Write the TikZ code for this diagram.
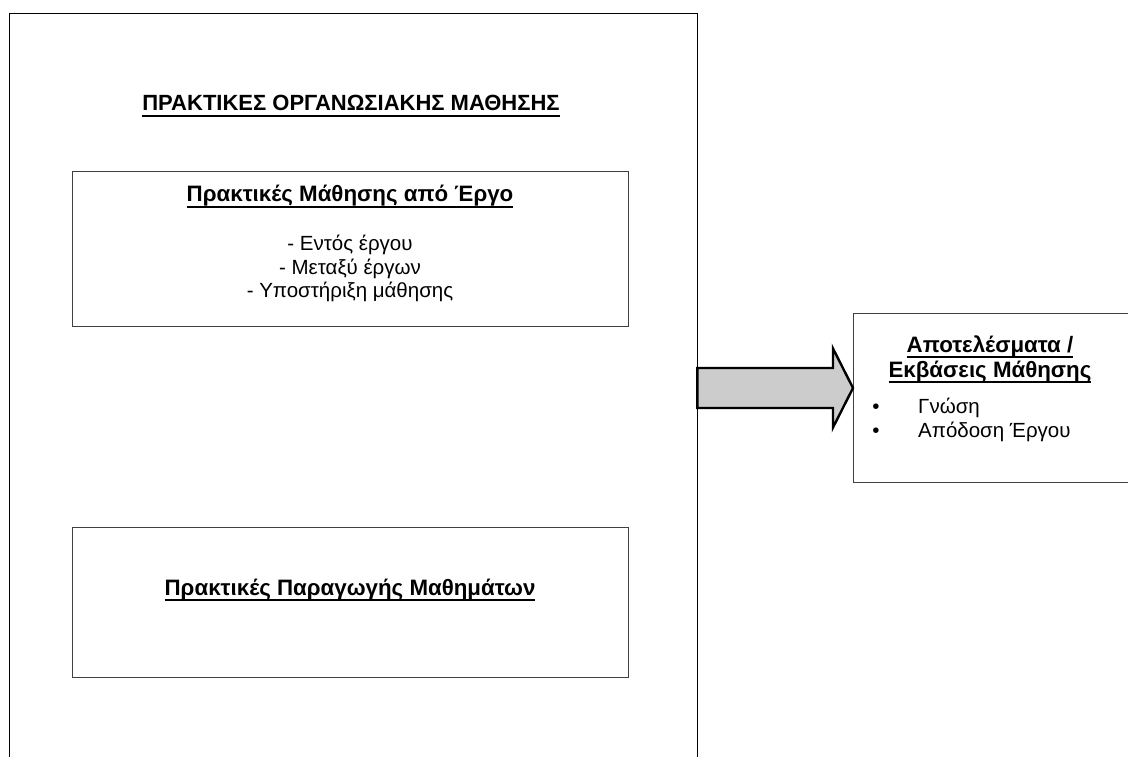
\documentclass[tikz,border=0pt]{standalone}
\usepackage{fontspec}
\setmainfont{Liberation Sans}
\usetikzlibrary{calc}

% bold heading with a heavy underline
\newcommand{\headul}[1]{\setbox0=\hbox{\bfseries #1}\leavevmode\rlap{\rule[-6pt]{\wd0}{2.4pt}}\box0}

\begin{document}
\begin{tikzpicture}[x=1pt,y=-1pt,
  txt/.style={font=\fontsize{20.5}{24}\selectfont, inner sep=0pt, anchor=base},
  hdr/.style={font=\fontsize{22.3}{26}\selectfont, inner sep=0pt, anchor=base},
  boxframe/.style={draw=black!75, line width=0.9pt, inner sep=0pt},
  bigarrow/.style={draw=black, fill=black!20, line width=2.4pt, line join=miter}]
\useasboundingbox (0,0) rectangle (1128,757);

% open frame around the organisational learning practices
\node[inner sep=0pt, minimum width=688, minimum height=746, anchor=north west] (frame) at (9,13) {};
\draw[black, line width=0.9pt] (frame.south west) |- (frame.north east) -- (frame.south east);

\node[hdr, font=\fontsize{22}{26}\selectfont] (title) at (351,111) {\headul{ΠΡΑΚΤΙΚΕΣ ΟΡΓΑΝΩΣΙΑΚΗΣ ΜΑΘΗΣΗΣ}};

% project learning practices
\node[boxframe, minimum width=556, minimum height=155] (proj) at (350,248.5) {};
\node[hdr] (projh) at (350,202) {\headul{Πρακτικές Μάθησης από Έργο}};
\node[txt] (p1) at (350,251) {- Εντός έργου};
\node[txt] (p2) at (350,274) {- Μεταξύ έργων};
\node[txt] (p3) at (350,297) {- Υποστήριξη μάθησης};

% lesson generation practices
\node[boxframe, minimum width=556, minimum height=150] (less) at (350,602) {};
\node[hdr] (lessh) at (350,595) {\headul{Πρακτικές Παραγωγής Μαθημάτων}};

% learning outcomes
\node[boxframe, minimum width=278, minimum height=169, anchor=north west] (res) at (853,313) {};
\node[hdr] (r1) at (990,352) {\headul{Αποτελέσματα /}};
\node[hdr] (r2) at (990,377) {\headul{Εκβάσεις Μάθησης}};
\node[txt] (b1) at (876,413) {\textbullet};
\node[txt, anchor=base west] (r3) at (918,413) {Γνώση};
\node[txt] (b2) at (876,437) {\textbullet};
\node[txt, anchor=base west] (r4) at (918,437) {Απόδοση Έργου};

% block arrow from the frame to the outcomes box
\coordinate (ay) at (0,388);
\coordinate (tail) at (frame.east |- ay);
\coordinate (tip) at (res.west |- ay);
\draw[bigarrow] ($(tail)+(0,-20)$) -- ($(tip)+(-20,-20)$) -- ($(tip)+(-20,-39.5)$)
  -- (tip) -- ($(tip)+(-20,39.5)$) -- ($(tip)+(-20,20)$) -- ($(tail)+(0,20)$) -- cycle;
\end{tikzpicture}
\end{document}
